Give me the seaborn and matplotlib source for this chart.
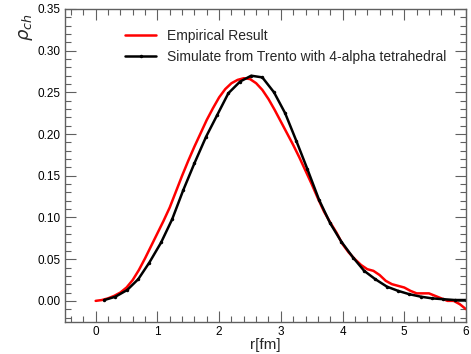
import numpy as np
import pandas as pd
import matplotlib
matplotlib.use("Agg")
import matplotlib.pyplot as plt
import seaborn as sns
from matplotlib.ticker import MultipleLocator

# === Empirical charge density (red) ===
r_emp = [0.0, 0.1, 0.2, 0.3, 0.4, 0.5, 0.6, 0.7, 0.8, 0.9,
         1.0, 1.1, 1.2, 1.3, 1.4, 1.5, 1.6, 1.7, 1.8, 1.9,
         2.0, 2.1, 2.2, 2.3, 2.4, 2.5, 2.6, 2.7, 2.8, 2.9,
         3.0, 3.1, 3.2, 3.3, 3.4, 3.5, 3.6, 3.7, 3.8, 3.9,
         4.0, 4.1, 4.2, 4.3, 4.4, 4.5, 4.6, 4.7, 4.8, 4.9,
         5.0, 5.1, 5.2, 5.3, 5.4, 5.5, 5.6, 5.7, 5.8, 5.9, 6.0]
rho_emp = [0.000, 0.001, 0.003, 0.006, 0.010, 0.016, 0.025, 0.037, 0.051, 0.066,
           0.081, 0.096, 0.112, 0.131, 0.150, 0.168, 0.185, 0.201, 0.217, 0.231,
           0.244, 0.254, 0.261, 0.265, 0.267, 0.266, 0.261, 0.253, 0.242, 0.229,
           0.215, 0.201, 0.187, 0.172, 0.156, 0.140, 0.123, 0.107, 0.094, 0.082,
           0.068, 0.058, 0.050, 0.043, 0.038, 0.036, 0.031, 0.024, 0.020, 0.018,
           0.016, 0.012, 0.009, 0.009, 0.009, 0.006, 0.003, 0.000, 0.000, -0.004, -0.010]

# === Trento simulation, 4-alpha tetrahedral (black) ===
r_sim = [0.14, 0.32, 0.51, 0.69, 0.87, 1.06, 1.24, 1.42, 1.60, 1.79, 1.97,
         2.15, 2.34, 2.52, 2.70, 2.89, 3.07, 3.25, 3.43, 3.62, 3.80, 3.98,
         4.17, 4.35, 4.53, 4.72, 4.90, 5.08, 5.27, 5.45, 5.63, 5.82, 6.00]
rho_sim = [0.001, 0.005, 0.013, 0.026, 0.046, 0.070, 0.098, 0.133, 0.165, 0.197, 0.223,
           0.249, 0.263, 0.270, 0.268, 0.250, 0.225, 0.192, 0.158, 0.121, 0.093, 0.071,
           0.052, 0.036, 0.026, 0.017, 0.012, 0.008, 0.005, 0.003, 0.002, 0.001, 0.001]

emp = pd.DataFrame({"r": r_emp, "rho": rho_emp})
sim = pd.DataFrame({"r": r_sim, "rho": rho_sim})

sns.set_theme(style="ticks")
plt.rcParams["font.family"] = ["Liberation Sans", "DejaVu Sans"]
plt.rcParams["mathtext.fontset"] = "dejavusans"

fig = plt.figure(figsize=(4.71, 3.54), dpi=100)
ax = fig.add_axes([0.1376, 0.0912, 0.8518, 0.8834])

sns.lineplot(data=emp, x="r", y="rho", ax=ax, color="#ff0000", linewidth=1.8,
             label="Empirical Result")
sns.lineplot(data=sim, x="r", y="rho", ax=ax, color="black", linewidth=1.8,
             marker="o", markersize=2.5, markeredgewidth=0,
             label="Simulate from Trento with 4-alpha tetrahedral")

ax.set_xlim(-0.5, 6)
ax.set_ylim(-0.025, 0.35)
ax.xaxis.set_major_locator(MultipleLocator(1))
ax.xaxis.set_minor_locator(MultipleLocator(0.2))
ax.yaxis.set_major_locator(MultipleLocator(0.05))
ax.yaxis.set_minor_locator(MultipleLocator(0.01))
ax.yaxis.set_major_formatter(matplotlib.ticker.FormatStrFormatter("%.2f"))

frame_col = "#606060"
for s in ax.spines.values():
    s.set_color(frame_col)
    s.set_linewidth(1.0)
ax.tick_params(which="both", direction="in", top=True, right=True,
               color=frame_col, labelsize=8.5, labelcolor="black")
ax.tick_params(which="major", length=8, width=0.8, pad=3)
ax.tick_params(which="minor", length=4, width=0.8)

ax.set_xlabel("r[fm]", fontsize=11, labelpad=0)
ax.set_ylabel(r"$\rho_{ch}$", fontsize=13, loc="top")
ax.yaxis.set_label_coords(-0.075, 0.985)

ax.legend(loc="upper left", bbox_to_anchor=(0.12, 0.975), frameon=False,
          fontsize=10, handlelength=2.2, handletextpad=0.8, labelspacing=0.45)

fig.savefig("out.png", dpi=100)
